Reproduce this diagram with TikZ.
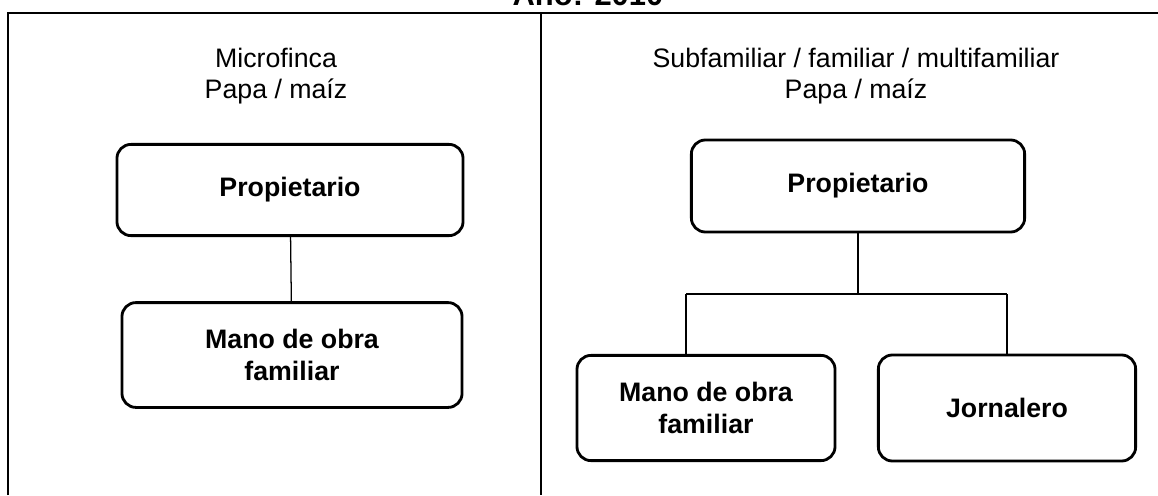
\documentclass[tikz,border=0pt]{standalone}
\usepackage{fontspec}
\setmainfont{Liberation Sans}
\tikzset{
  caja/.style={draw, rounded corners=0.35cm, line width=2pt, align=center,
    inner sep=0pt, font=\fontsize{19}{22.5}\selectfont\bfseries},
  rotulo/.style={align=center, inner sep=0pt, font=\fontsize{19}{22.5}\selectfont},
  enlace/.style={line width=0.9pt},
  marco/.style={line width=1pt}
}

\begin{document}
\begin{tikzpicture}[x=0.025cm, y=-0.025cm]
	%%%%% START %%%%%
	\useasboundingbox (0, 0) rectangle (1158, 495);
	\clip (0, 0) rectangle (1158, 495);
	
	% title, cut by the top edge
	\node[anchor=base, font=\fontsize{22}{26}\selectfont\bfseries] (titulo) at (588, 5) {Año: 2010};
	
	% frame
	\draw[marco] (8, 495) -- (8, 13) -- (1158, 13);
	\draw[marco] (541, 13) -- (541, 495);
	
	% left: microfinca
	\node[rotulo] (tipoA) at (276, 76) {Microfinca\\Papa / maíz};
	\node[caja, minimum width=8.65cm, minimum height=2.28cm] (propA) at (290, 190) {Propietario};
	\node[caja, minimum width=8.5cm, minimum height=2.62cm] (manoA) at (292, 355) {Mano de obra\\familiar};
	\draw[enlace] (propA) -- (manoA);
	
	% right: subfamiliar / familiar / multifamiliar
	\node[rotulo] (tipoB) at (856, 76) {Subfamiliar / familiar / multifamiliar\\Papa / maíz};
	\node[caja, minimum width=8.33cm, minimum height=2.3cm] (propB) at (858, 186) {Propietario};
	\node[caja, minimum width=6.45cm, minimum height=2.63cm] (manoB) at (706, 408) {Mano de obra\\familiar};
	\node[caja, minimum width=6.43cm, minimum height=2.65cm] (jornB) at (1007, 408) {Jornalero};
	
	\coordinate (ramaI) at (686, 294);
	\coordinate (ramaD) at (1007, 294);
	\draw[enlace] (propB.south) -- (propB.south |- ramaI);
	\draw[enlace] (ramaI) -- (ramaD);
	\draw[enlace] (ramaI) -- (ramaI |- manoB.north);
	\draw[enlace] (ramaD) -- (jornB.north);
	%%%%% END %%%%%
\end{tikzpicture}
\end{document}
